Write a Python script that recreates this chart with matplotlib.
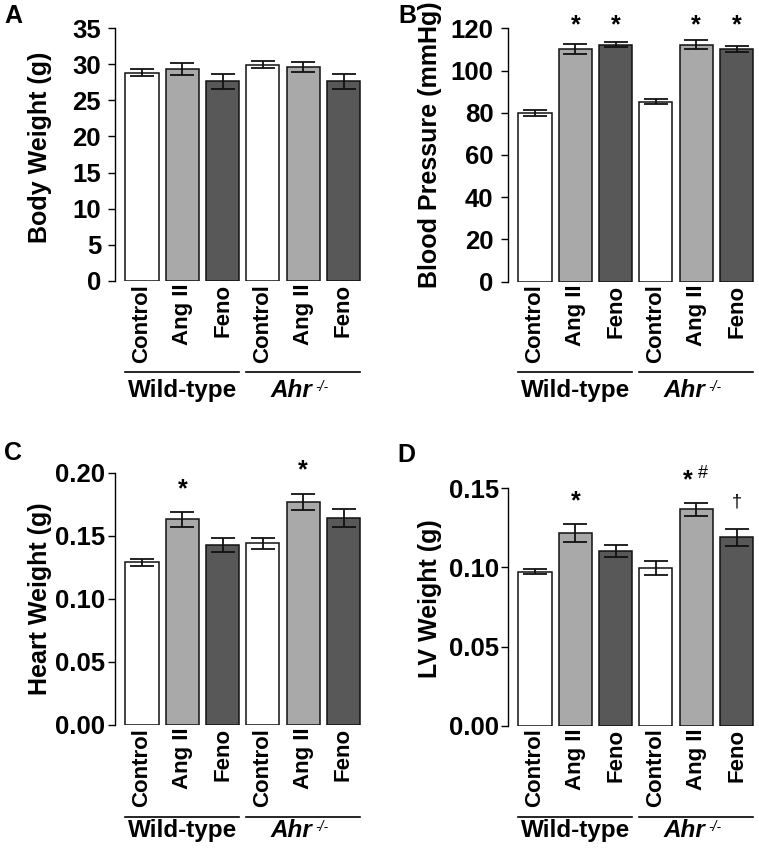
import matplotlib
matplotlib.use("Agg")
import matplotlib.pyplot as plt
import numpy as np
from matplotlib.transforms import blended_transform_factory, offset_copy

plt.rcParams['font.family'] = ['Liberation Sans', 'DejaVu Sans']
plt.rcParams['font.weight'] = 'bold'

# ---------------- data ----------------
categories = ["Control", "Ang II", "Feno", "Control", "Ang II", "Feno"]
groups = ["Wild-type", "Ahr"]
group_sup = ["", "-/-"]

body_weight = [28.8, 29.3, 27.6, 29.95, 29.6, 27.6]
body_weight_err = [0.5, 0.8, 1.0, 0.5, 0.7, 1.0]

blood_pressure = [79.8, 110.2, 112.2, 85.2, 112.2, 110.2]
blood_pressure_err = [1.4, 2.6, 1.2, 1.2, 2.2, 1.5]

heart_weight = [0.129, 0.163, 0.143, 0.144, 0.177, 0.164]
heart_weight_err = [0.0028, 0.0062, 0.0056, 0.0045, 0.0065, 0.0073]

lv_weight = [0.0973, 0.122, 0.1104, 0.0999, 0.1367, 0.119]
lv_weight_err = [0.0015, 0.0057, 0.0035, 0.0044, 0.0041, 0.0052]

bp_marks = [(1, "*", 124.8), (2, "*", 124.8), (4, "*", 124.8), (5, "*", 124.8)]
hw_marks = [(1, "*", 0.193), (4, "*", 0.2077)]
lv_marks = [(1, "*", 0.1467), (4, "*", 0.1597)]
lv_hash = [(4, "#", 0.1603)]
lv_dagger = [(5, "\u2020", 0.1423)]

bar_colors = ["#ffffff", "#a9a9a9", "#585858", "#ffffff", "#a9a9a9", "#585858"]

W, H = 759, 858
fig = plt.figure(figsize=(W / 100, H / 100), dpi=100)

SPACING = 40.3  # px per category


def make_ax(l, t, b, width=250):
    ax = fig.add_axes([l / W, (H - b) / H, width / W, (b - t) / H])
    left = -27.0 / SPACING
    ax.set_xlim(left, left + width / SPACING)
    return ax


def panel(ax, vals, errs, ylim, yticks, fmt, ylabel, ylab_xy, t, b, tick_pad,
          line_pix, glabel_pix, letter, letter_xy):
    x = np.arange(len(vals))
    ax.bar(x, vals, width=0.82, color=bar_colors, edgecolor="#111111", linewidth=1.1, zorder=2)
    ax.errorbar(x, vals, yerr=errs, fmt="none", ecolor="#111111", elinewidth=1.3,
                capsize=8.6, capthick=1.3, zorder=3)
    ax.set_ylim(*ylim)
    ax.set_yticks(yticks)
    ax.set_yticklabels([fmt.format(v) for v in yticks], fontsize=18.5, fontweight='bold')
    ax.tick_params(axis='y', length=5, width=1.0, pad=tick_pad, direction='out')
    ax.tick_params(axis='x', length=0, pad=2)
    ax.set_xticks(x)
    ax.set_xticklabels(categories, rotation=90, fontsize=16, fontweight='bold', va='top', ha='center')
    for s in ["top", "right", "bottom"]:
        ax.spines[s].set_visible(False)
    ax.spines["left"].set_linewidth(1.0)
    ax.set_ylabel(ylabel, fontsize=18, fontweight='bold')
    ax.yaxis.set_label_coords(*ylab_xy)
    # group lines and labels
    yfrac_line = (b - line_pix) / (b - t)
    yfrac_lab = (b - glabel_pix) / (b - t)
    tr = blended_transform_factory(ax.transData, ax.transAxes)
    for gi, g in enumerate(groups):
        x0 = gi * 3 - 0.41
        x1 = gi * 3 + 2.41
        ax.plot([x0, x1], [yfrac_line, yfrac_line], color="black", lw=1.2,
                transform=tr, clip_on=False)
        if group_sup[gi]:
            ax.text(gi * 3 + 1 + 0.23, yfrac_lab, g, transform=tr, ha='right', va='baseline',
                    fontsize=17.5, fontweight='bold', style='italic')
            ax.text(gi * 3 + 1 + 0.31, yfrac_lab, group_sup[gi],
                    transform=offset_copy(tr, fig=fig, x=0, y=6, units='dots'),
                    ha='left', va='baseline', fontsize=10, fontweight='normal', style='italic')
        else:
            ax.text(gi * 3 + 1, yfrac_lab, g, transform=tr, ha='center', va='baseline',
                    fontsize=17.5, fontweight='bold')
    fig.text(letter_xy[0] / W, 1 - letter_xy[1] / H, letter, fontsize=18, fontweight='bold',
             ha='left', va='baseline')


def marks(ax, items, size, weight='bold', dx=0.0, rel=0.58):
    for (i, s, y) in items:
        ax.annotate(s, xy=(i + dx, y), xytext=(0, -rel * size), textcoords='offset points',
                    ha='center', va='baseline', fontsize=size, fontweight=weight,
                    annotation_clip=False)


# Panel A
tA, bA = 28.0, 281.0
axA = make_ax(115, tA, bA)
panel(axA, body_weight, body_weight_err, (0, 35), np.arange(0, 36, 5), "{:d}",
      "Body Weight (g)", (-0.253, 0.527), tA, bA, 5, 372, 397, "A", (4, 23))

# Panel B
tB, bB = 28.3, 281.7
axB = make_ax(508, tB, bB)
panel(axB, blood_pressure, blood_pressure_err, (0, 120), np.arange(0, 121, 20), "{:d}",
      "Blood Pressure (mmHg)", (-0.265, 0.54), tB, bB, 5.5, 372, 397, "B", (398, 23))
marks(axB, bp_marks, 18)

# Panel C
tC, bC = 472.7, 725.0
axC = make_ax(115, tC, bC)
panel(axC, heart_weight, heart_weight_err, (0, 0.20), [0.0, 0.05, 0.10, 0.15, 0.20], "{:.2f}",
      "Heart Weight (g)", (-0.253, 0.5), tC, bC, 2, 816.7, 837, "C", (4, 460))
marks(axC, hw_marks, 18)

# Panel D
tD, bD = 488.3, 725.7
axD = make_ax(508, tD, bD)
panel(axD, lv_weight, lv_weight_err, (0, 0.15), [0.0, 0.05, 0.10, 0.15], "{:.2f}",
      "LV Weight (g)", (-0.265, 0.536), tD, bD, 1.5, 816.7, 837, "D", (397, 462))
marks(axD, [lv_marks[0]], 18)
marks(axD, [lv_marks[1]], 18, dx=-0.21)
marks(axD, lv_hash, 13, weight='normal', dx=0.16, rel=0.36)
marks(axD, lv_dagger, 13, weight='normal', rel=0.33)

fig.savefig("out.png", dpi=100)
